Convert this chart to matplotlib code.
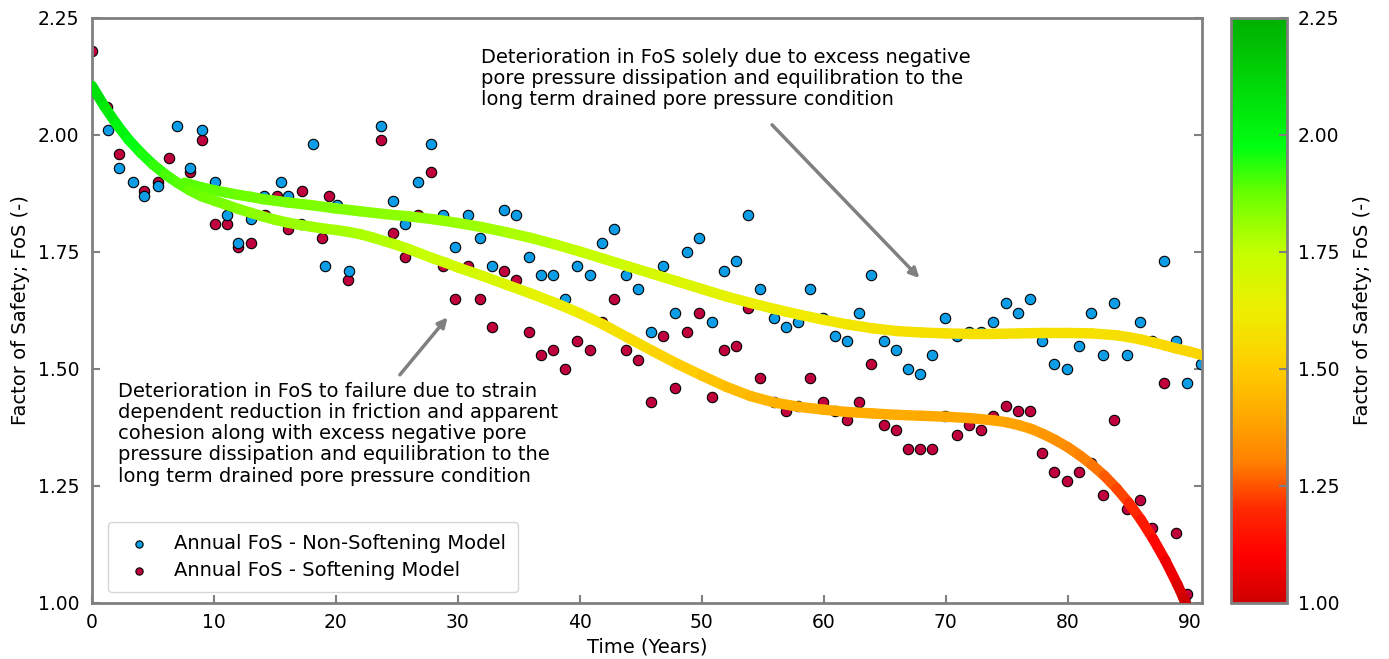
import numpy as np
import matplotlib
matplotlib.use("Agg")
import matplotlib.pyplot as plt
from matplotlib.colors import LinearSegmentedColormap, Normalize
from matplotlib.collections import LineCollection
from matplotlib.colorbar import ColorbarBase

# annual FoS, non-softening model (blue)
blue_t = [0.0, 1.3, 2.2, 3.4, 4.3, 5.4, 7.0, 8.0, 9.0, 10.1, 11.1, 12.0, 13.0, 14.1,
          15.5, 16.1, 17.1, 18.1, 19.1, 20.1, 21.1, 23.7, 24.7, 25.7, 26.7, 27.8, 28.8,
          29.8, 30.8, 31.8, 32.8, 33.8, 34.8, 35.8, 36.8, 37.8, 38.8, 39.8, 40.8, 41.8,
          42.8, 43.8, 44.8, 45.8, 46.8, 47.8, 48.8, 49.8, 50.8, 51.8, 52.8, 53.8, 54.8,
          55.9, 56.9, 57.9, 58.9, 59.9, 60.9, 61.9, 62.9, 63.9, 64.9, 65.9, 66.9, 67.9,
          68.9, 69.9, 70.9, 71.9, 72.9, 73.9, 74.9, 75.9, 76.9, 77.9, 78.9, 79.9, 80.9,
          81.9, 82.9, 83.8, 84.9, 85.9, 86.9, 87.9, 88.9, 89.8, 90.9]
blue_fos = [2.10, 2.01, 1.93, 1.90, 1.87, 1.89, 2.02, 1.93, 2.01, 1.90, 1.83, 1.77, 1.82, 1.87,
            1.90, 1.87, 1.81, 1.98, 1.72, 1.85, 1.71, 2.02, 1.86, 1.81, 1.90, 1.98, 1.83,
            1.76, 1.83, 1.78, 1.72, 1.84, 1.83, 1.74, 1.70, 1.70, 1.65, 1.72, 1.70, 1.77,
            1.80, 1.70, 1.67, 1.58, 1.72, 1.62, 1.75, 1.78, 1.60, 1.71, 1.73, 1.83, 1.67,
            1.61, 1.59, 1.60, 1.67, 1.61, 1.57, 1.56, 1.62, 1.70, 1.56, 1.54, 1.50, 1.49,
            1.53, 1.61, 1.57, 1.58, 1.58, 1.60, 1.64, 1.62, 1.65, 1.56, 1.51, 1.50, 1.55,
            1.62, 1.53, 1.64, 1.53, 1.60, 1.56, 1.73, 1.56, 1.47, 1.51]

# annual FoS, softening model (red)
red_t = [0.0, 1.2, 2.2, 4.3, 5.4, 6.3, 8.0, 9.0, 10.1, 11.1, 12.0, 13.0, 14.2, 15.2,
         16.1, 17.2, 18.9, 19.4, 21.0, 23.7, 24.7, 25.7, 26.7, 27.8, 28.8, 29.8, 30.8,
         31.8, 32.8, 33.8, 34.8, 35.8, 36.8, 37.8, 38.8, 39.8, 40.8, 41.8, 42.8, 43.8,
         44.8, 45.8, 46.8, 47.8, 48.8, 49.8, 50.8, 51.8, 52.8, 53.8, 54.8, 55.9, 56.9,
         57.9, 58.9, 59.9, 60.9, 61.9, 62.9, 63.9, 64.9, 65.9, 66.9, 67.9, 68.9, 69.9,
         70.9, 71.9, 72.9, 73.9, 74.9, 75.9, 76.9, 77.9, 78.9, 79.9, 80.9, 81.9, 82.9,
         83.8, 84.9, 85.9, 86.9, 87.9, 88.9, 89.8]
red_fos = [2.18, 2.06, 1.96, 1.88, 1.90, 1.95, 1.92, 1.99, 1.81, 1.81, 1.76, 1.77, 1.83, 1.87,
           1.80, 1.88, 1.78, 1.87, 1.69, 1.99, 1.79, 1.74, 1.83, 1.92, 1.72, 1.65, 1.72,
           1.65, 1.59, 1.71, 1.69, 1.58, 1.53, 1.54, 1.50, 1.56, 1.54, 1.60, 1.65, 1.54,
           1.52, 1.43, 1.57, 1.46, 1.58, 1.62, 1.44, 1.54, 1.55, 1.63, 1.48, 1.43, 1.41,
           1.42, 1.48, 1.43, 1.41, 1.39, 1.43, 1.51, 1.38, 1.37, 1.33, 1.33, 1.33, 1.40,
           1.36, 1.38, 1.37, 1.40, 1.42, 1.41, 1.41, 1.32, 1.28, 1.26, 1.28, 1.30, 1.23,
           1.39, 1.20, 1.22, 1.16, 1.47, 1.15, 1.02]

# trend line, non-softening model
trend_ns_t = [7.6, 9, 10, 11, 12, 13, 14, 16, 18, 20, 22, 24, 26, 28, 30, 32, 34, 36, 38,
              40, 42, 44, 46, 48, 50, 52, 54, 56, 58, 60, 62, 64, 66, 68, 70, 72, 74, 76,
              78, 80, 82, 84, 85, 86, 87, 88, 89, 90, 91]
trend_ns = [1.898, 1.888, 1.882, 1.877, 1.872, 1.868, 1.863, 1.856, 1.850, 1.843, 1.837,
            1.831, 1.826, 1.820, 1.812, 1.803, 1.792, 1.780, 1.766, 1.751, 1.735, 1.719,
            1.703, 1.687, 1.671, 1.655, 1.641, 1.628, 1.616, 1.605, 1.595, 1.587, 1.581,
            1.578, 1.576, 1.575, 1.575, 1.576, 1.577, 1.577, 1.576, 1.572, 1.568, 1.563,
            1.557, 1.550, 1.543, 1.537, 1.530]

# trend line, softening model
trend_s_t = [0, 1, 2, 3, 4, 5, 6, 7, 8, 9, 10, 11, 12, 13, 14, 15, 16, 17, 18, 19, 20, 21,
             22, 23, 24, 25, 26, 27, 28, 29, 30, 32, 34, 36, 38, 40, 42, 44, 46, 48, 50,
             52, 54, 56, 58, 60, 62, 64, 66, 68, 70, 72, 74, 75, 76, 77, 78, 79, 80, 81,
             82, 83, 84, 85, 86, 87, 88, 89, 89.5, 90]
trend_s = [2.105, 2.062, 2.024, 1.990, 1.962, 1.937, 1.916, 1.898, 1.882, 1.869, 1.860,
           1.851, 1.842, 1.834, 1.826, 1.819, 1.813, 1.808, 1.804, 1.800, 1.797, 1.793,
           1.788, 1.781, 1.773, 1.765, 1.756, 1.746, 1.736, 1.727, 1.717, 1.699, 1.680,
           1.661, 1.641, 1.619, 1.594, 1.566, 1.538, 1.511, 1.486, 1.462, 1.442, 1.428,
           1.419, 1.413, 1.408, 1.405, 1.402, 1.400, 1.398, 1.395, 1.390, 1.386, 1.380,
           1.372, 1.361, 1.348, 1.333, 1.315, 1.295, 1.272, 1.245, 1.214, 1.178, 1.137,
           1.091, 1.039, 1.010, 0.980]

cmap = LinearSegmentedColormap.from_list("fos", [
    (0.0, "#d00000"), (0.08, "#ff0000"), (0.16, "#ff2a00"), (0.24, "#ff8000"),
    (0.32, "#ffaa00"), (0.40, "#ffcc00"), (0.50, "#eeee00"), (0.60, "#c4ff00"),
    (0.70, "#6aff00"), (0.78, "#00ff10"), (1.0, "#00b000")])
norm = Normalize(1.0, 2.25)

grey = "#808080"
fs = 14
fig = plt.figure(figsize=(13.89, 6.59), dpi=100)
ax = fig.add_axes([0.0662, 0.085, 0.7991, 0.8877])
cax = fig.add_axes([0.886, 0.085, 0.0403, 0.8877])

ax.scatter(red_t, red_fos, s=56, color="#c0003c", edgecolor="black", linewidth=0.8,
           zorder=2, label="Annual FoS - Softening Model")
ax.scatter(blue_t, blue_fos, s=56, color="#0c9de6", edgecolor="black", linewidth=0.8,
           zorder=2.1, label="Annual FoS - Non-Softening Model")

for tt, yy in [(trend_ns_t, trend_ns), (trend_s_t, trend_s)]:
    pts = np.column_stack([tt, yy])
    segs = np.stack([pts[:-1], pts[1:]], axis=1)
    lc = LineCollection(segs, cmap=cmap, norm=norm, linewidths=7.5, capstyle="round",
                        joinstyle="round", zorder=3)
    lc.set_array((np.array(yy[:-1]) + np.array(yy[1:])) / 2)
    ax.add_collection(lc)

ax.set_xlim(0, 91)
ax.set_ylim(1.0, 2.25)
ax.set_xticks(range(0, 91, 10))
ax.set_yticks([1.0, 1.25, 1.5, 1.75, 2.0, 2.25])
ax.yaxis.set_major_formatter(matplotlib.ticker.FormatStrFormatter("%.2f"))
ax.tick_params(direction="in", length=6, width=1.5, color=grey, labelsize=13.5,
               right=True)
ax.tick_params(axis="y", pad=9)
ax.tick_params(axis="x", pad=7)
for sp in ax.spines.values():
    sp.set_color(grey)
    sp.set_linewidth(2)
ax.set_xlabel("Time (Years)", fontsize=fs, labelpad=4)
ax.set_ylabel("Factor of Safety; FoS (-)", fontsize=fs, labelpad=6)

arrow = dict(arrowstyle="-|>", color=grey, lw=2.5, mutation_scale=14)
ax.text(31.9, 2.186, "Deterioration in FoS solely due to excess negative\n"
        "pore pressure dissipation and equilibration to the\n"
        "long term drained pore pressure condition",
        fontsize=fs, va="top", ha="left", linespacing=1.15)
ax.annotate("", xy=(68.0, 1.69), xytext=(55.6, 2.026), arrowprops=arrow)
ax.text(2.1, 1.473, "Deterioration in FoS to failure due to strain\n"
        "dependent reduction in friction and apparent\n"
        "cohesion along with excess negative pore\n"
        "pressure dissipation and equilibration to the\n"
        "long term drained pore pressure condition",
        fontsize=fs, va="top", ha="left", linespacing=1.15)
ax.annotate("", xy=(29.3, 1.615), xytext=(25.1, 1.483), arrowprops=arrow)

h, l = ax.get_legend_handles_labels()
leg = ax.legend(h[::-1], l[::-1], loc="lower left", fontsize=fs, markerscale=0.7,
                bbox_to_anchor=(0.006, 0.002), borderpad=0.6, handletextpad=0.8,
                labelspacing=0.45)

cb = ColorbarBase(cax, cmap=cmap, norm=norm)
cb.set_ticks([1.0, 1.25, 1.5, 1.75, 2.0, 2.25])
cb.ax.yaxis.set_major_formatter(matplotlib.ticker.FormatStrFormatter("%.2f"))
cb.ax.tick_params(direction="in", length=6, width=1.5, color=grey, labelsize=13.5, pad=8)
cb.outline.set_edgecolor(grey)
cb.outline.set_linewidth(2)
cb.set_label("Factor of Safety; FoS (-)", fontsize=fs, labelpad=10)

fig.savefig("out.png", dpi=100)
